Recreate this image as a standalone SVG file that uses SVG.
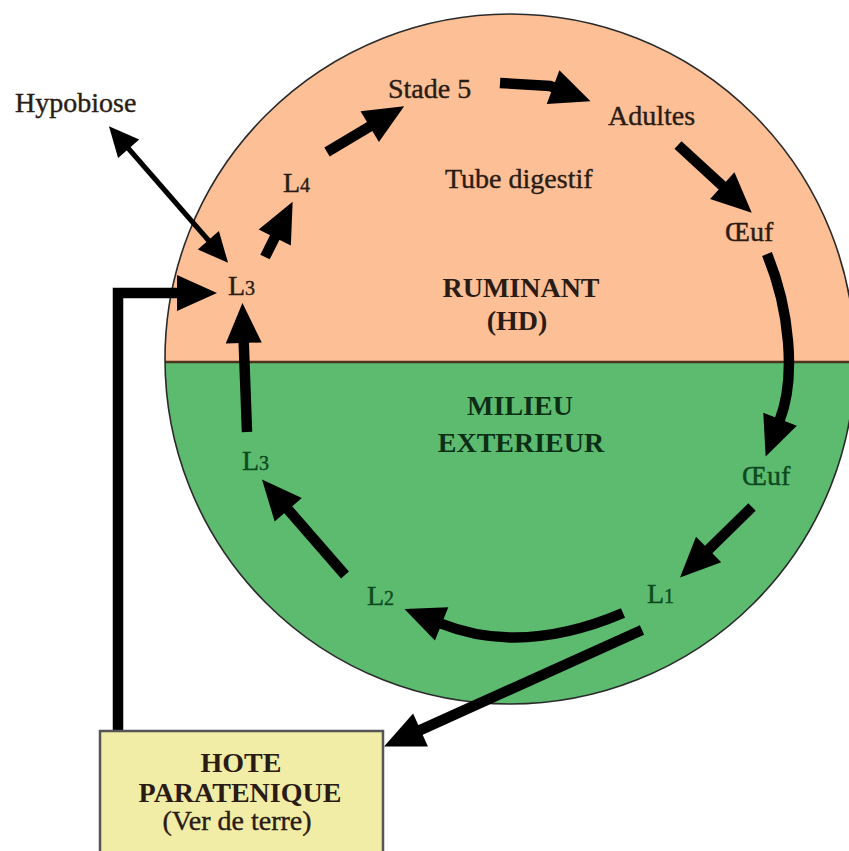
<svg xmlns="http://www.w3.org/2000/svg" width="849" height="851" viewBox="0 0 849 851">
<style>
  text { font-family: "Liberation Serif", "DejaVu Serif", serif; font-size: 28px; }
  .dark { fill: #2a1c14; stroke: #2a1c14; stroke-width: 0.4; }
  .grn { fill: #0c4a1e; stroke: #0c4a1e; stroke-width: 0.4; }
  .grnb { fill: #0c2e15; font-weight: bold; }
  .b { font-weight: bold; stroke-width: 0; }
  .sub { font-size: 20px; }
  .arr { fill: none; stroke: #000; stroke-width: 10.5; }
  .thin { fill: none; stroke: #000; stroke-width: 5; }
</style>
<defs>
  <clipPath id="cc"><circle cx="510" cy="359" r="345"/></clipPath>
  <marker id="ah" markerUnits="userSpaceOnUse" markerWidth="44" markerHeight="40" refX="1" refY="18" orient="auto" overflow="visible">
    <path d="M0,0 L40,18 L0,36 z" fill="#000"/>
  </marker>
  <marker id="ahs" markerUnits="userSpaceOnUse" markerWidth="34" markerHeight="30" refX="1" refY="14" orient="auto-start-reverse" overflow="visible">
    <path d="M0,0 L30,14 L0,28 z" fill="#000"/>
  </marker>
</defs>

<g id="background">
  <g clip-path="url(#cc)">
    <rect x="150" y="0" width="720" height="362" fill="#FDBF95"/>
    <rect x="150" y="362" width="720" height="360" fill="#5CBB6F"/>
  </g>
  <line x1="165" y1="362" x2="855" y2="362" stroke="#4a3520" stroke-width="2.5"/>
  <circle cx="510" cy="359" r="345" fill="none" stroke="#2a2a2a" stroke-width="1.6"/>
</g>

<g id="connectors">
  <path class="thin" d="M128,148 L209,241" marker-start="url(#ahs)" marker-end="url(#ahs)"/>
  <path class="arr" d="M265,257 L275.2,236.6" marker-end="url(#ah)"/>
  <path class="arr" d="M327,152 L370.6,126.1" marker-end="url(#ah)"/>
  <path class="arr" d="M500,83 L550,86 L554,87.5" marker-end="url(#ah)"/>
  <path class="arr" d="M678,145 L723,186.3" marker-end="url(#ah)"/>
  <path class="arr" d="M767,254 C790,310 796,378 779.7,420.2" marker-end="url(#ah)"/>
  <path class="arr" d="M752,507 L707.9,550.2" marker-end="url(#ah)"/>
  <path class="arr" d="M623,613 Q522,656 440.7,623.5" marker-end="url(#ah)"/>
  <path class="arr" d="M642,630 L419.6,730.4" marker-end="url(#ah)"/>
  <path class="arr" d="M345,575 L287.6,509" marker-end="url(#ah)"/>
  <path class="arr" d="M247,432 Q245,382 243.7,342" marker-end="url(#ah)"/>
  <path class="arr" d="M118,731 V293 H178" stroke-width="11" marker-end="url(#ah)"/>
</g>

<g id="hypobiose"><text class="dark" x="15" y="112">Hypobiose</text></g>
<g id="stade5"><text class="dark" x="388" y="98">Stade 5</text></g>
<g id="adultes"><text class="dark" x="608" y="125">Adultes</text></g>
<g id="tube"><text class="dark" x="445" y="188">Tube digestif</text></g>
<g id="l4"><text class="dark" x="283" y="192">L<tspan class="sub">4</tspan></text></g>
<g id="oeuf1"><text class="dark" x="725" y="241">Œuf</text></g>
<g id="ruminant">
  <text class="dark b" x="521" y="297" text-anchor="middle">RUMINANT</text>
  <text class="dark b" x="517" y="330" text-anchor="middle">(HD)</text>
</g>
<g id="l3a"><text class="dark" x="228" y="295">L<tspan class="sub">3</tspan></text></g>
<g id="milieu">
  <text class="grnb" x="520" y="415" text-anchor="middle">MILIEU</text>
  <text class="grnb" x="521" y="452" text-anchor="middle">EXTERIEUR</text>
</g>
<g id="l3b"><text class="grn" x="242" y="470">L<tspan class="sub">3</tspan></text></g>
<g id="oeuf2"><text class="grn" x="742" y="485">Œuf</text></g>
<g id="l1"><text class="grn" x="647" y="603">L<tspan class="sub">1</tspan></text></g>
<g id="l2"><text class="grn" x="367" y="605">L<tspan class="sub">2</tspan></text></g>

<g id="hote">
  <rect x="100" y="731" width="283" height="135" fill="#F1ECA6" stroke="#555" stroke-width="2.5"/>
  <text class="dark b" x="241" y="772" text-anchor="middle">HOTE</text>
  <text class="dark b" x="240" y="802" text-anchor="middle">PARATENIQUE</text>
  <text class="dark" x="237" y="830" text-anchor="middle">(Ver de terre)</text>
</g>
</svg>
